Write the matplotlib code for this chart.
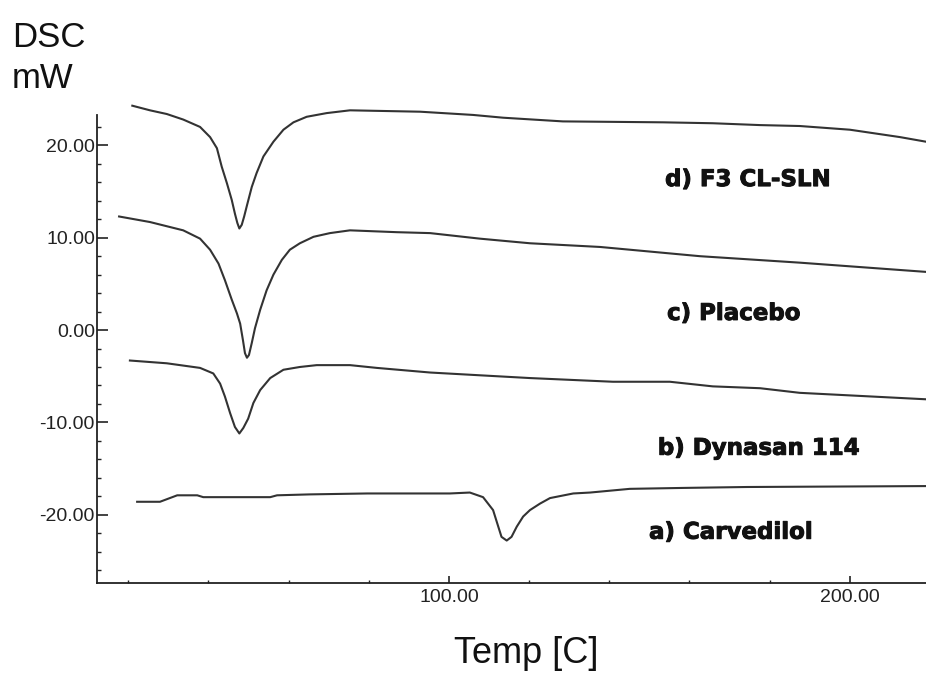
import numpy as np
import matplotlib
matplotlib.use("Agg")
import matplotlib.pyplot as plt
import matplotlib.patheffects as pe
from matplotlib.ticker import FixedLocator, MultipleLocator, FormatStrFormatter

# DSC thermograms, temperature [C] vs heat flow [mW]
temp_d = [21.0, 25.4, 29.6, 33.7, 37.9, 40.4, 42.1, 43.3, 44.6, 45.8, 46.6, 47.2, 47.7,
          48.3, 48.9, 49.6, 50.8, 52.0, 53.7, 56.2, 58.7, 61.2, 64.5, 69.5, 75.3, 92.8,
          106.0, 113.5, 128.4, 153.4, 165.8, 177.6, 187.5, 200.0, 212.5, 219.0]
dsc_d = [24.3, 23.8, 23.4, 22.8, 22.0, 20.9, 19.7, 17.7, 15.9, 14.1, 12.6, 11.6, 11.0,
         11.4, 12.3, 13.5, 15.5, 17.0, 18.8, 20.4, 21.7, 22.5, 23.1, 23.5, 23.8, 23.65,
         23.3, 23.0, 22.6, 22.5, 22.4, 22.2, 22.1, 21.7, 20.9, 20.4]

temp_c = [17.7, 25.4, 33.7, 37.9, 40.4, 42.5, 44.1, 45.8, 47.1, 47.9, 48.6, 49.1, 49.6,
          50.1, 50.8, 51.6, 52.9, 54.5, 56.2, 58.3, 60.3, 62.8, 66.2, 70.3, 75.3, 87.0,
          95.3, 107.7, 120.2, 137.7, 162.6, 187.5, 219.0]
dsc_c = [12.3, 11.7, 10.8, 9.9, 8.7, 7.2, 5.4, 3.3, 1.8, 0.7, -1.1, -2.5, -3.0,
         -2.7, -1.4, 0.2, 2.2, 4.3, 6.0, 7.6, 8.7, 9.4, 10.1, 10.5, 10.8, 10.6,
         10.5, 9.9, 9.4, 9.0, 8.0, 7.3, 6.3]

temp_b = [20.4, 29.6, 37.9, 41.2, 42.9, 44.1, 45.4, 46.6, 47.7, 48.7, 49.9, 51.2, 52.9,
          55.4, 58.7, 62.8, 67.0, 75.3, 82.0, 95.3, 107.7, 120.2, 140.9, 155.1, 165.8,
          177.6, 187.5, 219.0]
dsc_b = [-3.3, -3.6, -4.1, -4.7, -5.8, -7.2, -9.0, -10.5, -11.2, -10.6, -9.6, -7.9, -6.5,
         -5.2, -4.3, -4.0, -3.8, -3.8, -4.1, -4.6, -4.9, -5.2, -5.6, -5.6, -6.1,
         -6.3, -6.8, -7.5]

temp_a = [22.2, 27.9, 32.2, 37.2, 38.7, 55.4, 57.1, 65.3, 79.6, 100.2, 105.2, 108.5, 111.0,
          112.3, 113.1, 114.4, 115.6, 116.9, 118.5, 120.2, 122.7, 125.2, 131.0, 135.2,
          145.1, 158.4, 174.3, 219.0]
dsc_a = [-18.6, -18.6, -17.9, -17.9, -18.1, -18.1, -17.9, -17.8, -17.7, -17.7, -17.6, -18.1, -19.5,
         -21.3, -22.4, -22.8, -22.4, -21.3, -20.2, -19.5, -18.8, -18.2, -17.7, -17.6,
         -17.2, -17.1, -17.0, -16.9]

labels = ["d) F3 CL-SLN", "c) Placebo", "b) Dynasan 114", "a) Carvedilol"]
label_x = [153.9, 154.4, 152.1, 149.9]
label_y = [16.3, 1.8, -12.8, -21.9]

line_col = "#333333"

fig = plt.figure(figsize=(9.26, 6.73), dpi=100)
ax = fig.add_axes([0.1048, 0.1337, 0.8952, 0.7257])

for t, v in [(temp_d, dsc_d), (temp_c, dsc_c), (temp_b, dsc_b), (temp_a, dsc_a)]:
    ax.plot(t, v, color=line_col, lw=1.5, solid_joinstyle="round")

# sample names, slightly heavier than plain bold
for s, x, y in zip(labels, label_x, label_y):
    ax.text(x, y, s, family="DejaVu Sans", fontweight="bold", fontsize=16.5,
            color="#111111", va="center", ha="left",
            path_effects=[pe.withStroke(linewidth=0.7, foreground="#111111")])

ax.set_xlim(12.2, 219.0)
ax.set_ylim(-27.4, 25.5)

for side in ["top", "right"]:
    ax.spines[side].set_visible(False)
for side in ["left", "bottom"]:
    ax.spines[side].set_color("#222222")
    ax.spines[side].set_linewidth(1.3)
ax.spines["left"].set_bounds(-27.4, 23.3)

ax.yaxis.set_major_locator(FixedLocator([-20, -10, 0, 10, 20]))
ax.yaxis.set_minor_locator(FixedLocator(np.arange(-26, 23, 2)))
ax.xaxis.set_major_locator(FixedLocator([100, 200]))
ax.xaxis.set_minor_locator(MultipleLocator(20))
ax.xaxis.set_major_formatter(FormatStrFormatter("%.2f"))
ax.yaxis.set_major_formatter(FormatStrFormatter("%.2f"))

ax.tick_params(axis="y", which="major", direction="in", length=8, width=1.2,
               pad=1.5, labelsize=14, colors="#222222")
ax.tick_params(axis="y", which="minor", direction="in", length=3, width=1.0, colors="#222222")
ax.tick_params(axis="x", which="major", direction="in", length=5, width=1.2,
               pad=4, labelsize=14, colors="#222222")
ax.tick_params(axis="x", which="minor", direction="in", length=2.5, width=1.0, colors="#222222")
for lab in ax.get_xticklabels() + ax.get_yticklabels():
    lab.set_family("Liberation Sans")

fig.text(0.013, 0.930, "DSC", family="Liberation Sans", fontsize=25, color="#111111",
         ha="left", va="baseline")
fig.text(0.013, 0.869, "mW", family="Liberation Sans", fontsize=25, color="#111111",
         ha="left", va="baseline")
fig.text(0.5686, 0.0149, "Temp [C]", family="Liberation Sans", fontsize=26, color="#111111",
         ha="center", va="baseline")

fig.savefig("out.png", dpi=100)
